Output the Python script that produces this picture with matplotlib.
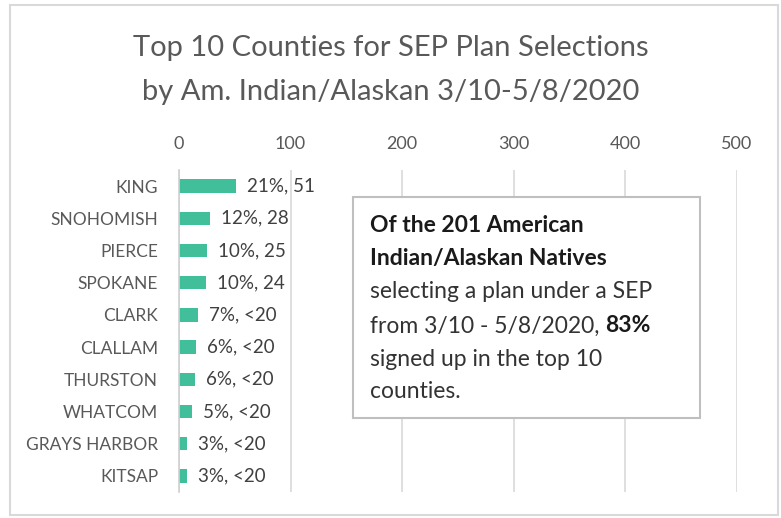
import matplotlib.pyplot as plt
import numpy as np
from matplotlib.patches import Rectangle

counties = ['KING', 'SNOHOMISH', 'PIERCE', 'SPOKANE', 'CLARK', 'CLALLAM',
            'THURSTON', 'WHATCOM', 'GRAYS HARBOR', 'KITSAP']
# counts under 20 are suppressed in the source, widths estimated from the bars
counts = [51, 28, 25, 24, 17, 15, 14, 12, 7, 7]
bar_labels = ['21%, 51', '12%, 28', '10%, 25', '10%, 24', '7%, <20',
              '6%, <20', '6%, <20', '5%, <20', '3%, <20', '3%, <20']
xticks = [0, 100, 200, 300, 400, 500]

plt.rcParams['font.family'] = ['Lato', 'DejaVu Sans']

W, H = 781, 518
fig = plt.figure(figsize=(W / 100, H / 100), dpi=100)
fig.patch.set_facecolor('white')

# outer chart border
fig.add_artist(Rectangle((10 / W, 1 - 515 / H), 768 / W, 510 / H,
                         transform=fig.transFigure, fill=False,
                         edgecolor='#d9d9d9', linewidth=1.5))

ax = fig.add_axes([179 / W, 1 - 492 / H, 557.5 / W, 322 / H])
ind = np.arange(len(counties))
ax.barh(ind, counts, height=0.42, color='#41bf9b')
ax.set_ylim(len(counties) - 0.5, -0.5)
ax.set_xlim(0, 500)

ax.set_yticks(ind)
ax.set_yticklabels(counties, fontsize=12.5, color='#595959')
ax.tick_params(axis='y', length=0, pad=15)
ax.xaxis.tick_top()
ax.set_xticks(xticks)
ax.set_xticklabels([str(t) for t in xticks], fontsize=13, color='#595959')
ax.tick_params(axis='x', length=0, pad=13)

ax.grid(axis='x', color='#d9d9d9', linewidth=1.2)
ax.set_axisbelow(True)
for s in ['top', 'right', 'bottom']:
    ax.spines[s].set_visible(False)
ax.spines['left'].set_color('#d0d0d0')
ax.spines['left'].set_linewidth(1.2)

for i, (v, lab) in enumerate(zip(counts, bar_labels)):
    ax.annotate(lab, (v, i), xytext=(8, 0), textcoords='offset points',
                va='center', ha='left', fontsize=13.5, color='#404040')

fig.text(0.5, 1 - 48 / H, 'Top 10 Counties for SEP Plan Selections',
         ha='center', va='center', fontsize=21, color='#595959')
fig.text(0.5, 1 - 92 / H, 'by Am. Indian/Alaskan 3/10-5/8/2020',
         ha='center', va='center', fontsize=21, color='#595959')

# callout box
fig.add_artist(Rectangle((353 / W, 1 - 418 / H), 347 / W, 221 / H,
                         transform=fig.transFigure, facecolor='white',
                         edgecolor='#bfbfbf', linewidth=1.5, zorder=5))
tx = 370 / W
lines = [('Of the 201 American', 'bold'),
         ('Indian/Alaskan Natives', 'bold'),
         ('selecting a plan under a SEP', 'normal'),
         ('from 3/10 - 5/8/2020, ', 'normal'),
         ('signed up in the top 10', 'normal'),
         ('counties.', 'normal')]
ys = [225, 259, 292, 326, 359, 392]
texts = []
for (s, w), y in zip(lines, ys):
    t = fig.text(tx, 1 - y / H, s, ha='left', va='center', fontsize=16.5,
                 fontweight=w, color='#1a1a1a' if w == 'bold' else '#333333',
                 zorder=6)
    texts.append(t)

fig.canvas.draw()
bb = texts[3].get_window_extent()
fig.text(bb.x1 / W, 1 - ys[3] / H, '83%', ha='left', va='center',
         fontsize=16.5, fontweight='bold', color='#1a1a1a', zorder=6)

plt.savefig('out.png', dpi=100, facecolor='white')
